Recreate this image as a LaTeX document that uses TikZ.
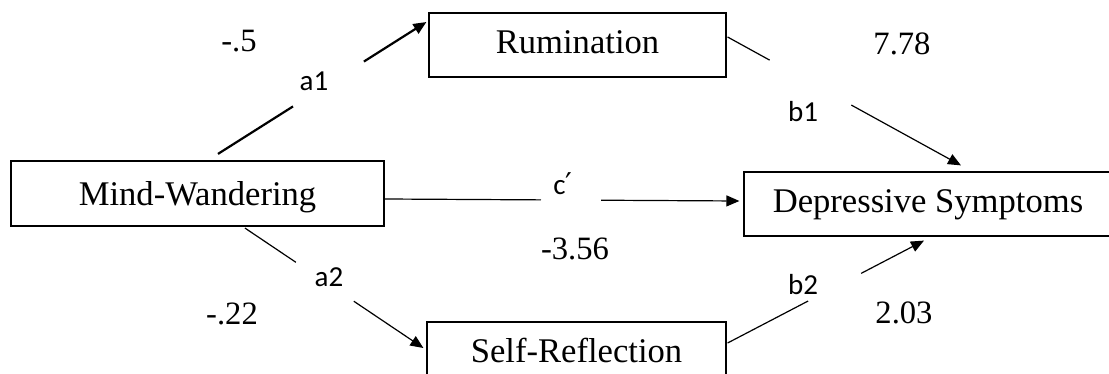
\documentclass[tikz,border=0pt]{standalone}
\usepackage{fontspec}
\setmainfont{Liberation Serif}
\newfontfamily\labelfont{Carlito}
\newfontfamily\primefont{DejaVu Sans}
\usetikzlibrary{arrows.meta,calc}

\begin{document}
\begin{tikzpicture}[x=0.5pt,y=-0.5pt,
  box/.style={draw,line width=0.6pt,inner sep=0pt,minimum height=32pt,font=\fontsize{17.3}{20}\selectfont,text height=12.1pt,text depth=3.8pt},
  coef/.style={font=\fontsize{16.3}{19}\selectfont},
  lab/.style={font=\labelfont\fontsize{14.5}{16}\selectfont},
  link/.style={line width=0.6pt},
  tip/.style={-{Triangle[length=6.5pt,width=5.5pt]}}]
  \useasboundingbox (0,0) rectangle (1109,374);
  \clip (0,0) rectangle (1109,374);
  \node[box,line width=1.1pt,minimum width=186.5pt,minimum height=32.5pt,text height=15.5pt] (mw) at (197.5,193.5) {Mind-Wandering};
  \node[box,minimum width=148.5pt] (rum) at (577.5,45) {Rumination};
  \node[box,minimum width=149.5pt] (sr) at (576.5,354) {Self-Reflection};
  \node[box,minimum width=184pt] (dep) at (928,204) {Depressive Symptoms};
  \coordinate (a1s) at ($(mw.north)+(20.5,-6)$);
  \coordinate (a1e) at ($(rum.west)+(-2,-23)$);
  \coordinate (b1s) at ($(rum.east)+(1,-8)$);
  \coordinate (b1e) at ($(dep.north)+(33,-6)$);
  \coordinate (cs) at ($(mw.east)+(0,5.5)$);
  \coordinate (ce) at ($(dep.west)+(-4,-3)$);
  \coordinate (a2s) at ($(mw.south)+(47.5,1)$);
  \coordinate (a2e) at ($(sr.west)+(-3,-6)$);
  \coordinate (b2s) at ($(sr.east)+(1,-11)$);
  \coordinate (b2e) at ($(dep.south)+(-4,4)$);
  \draw[link,line width=1.1pt] (a1s) -- ($(a1s)!0.36!(a1e)$);
  \draw[link,line width=1.1pt,tip] ($(a1s)!0.70!(a1e)$) -- (a1e);
  \draw[link] (b1s) -- ($(b1s)!0.18!(b1e)$);
  \draw[link,tip] ($(b1s)!0.53!(b1e)$) -- (b1e);
  \draw[link] (cs) -- ($(cs)!0.44!(ce)$);
  \draw[link,tip] ($(cs)!0.61!(ce)$) -- (ce);
  \draw[link] (a2s) -- ($(a2s)!0.285!(a2e)$);
  \draw[link,tip] ($(a2s)!0.61!(a2e)$) -- (a2e);
  \draw[link] (b2s) -- ($(b2s)!0.41!(b2e)$);
  \draw[link,tip] ($(b2s)!0.68!(b2e)$) -- (b2e);
  \node[lab] (la1) at (314,81) {a1};
  \node[lab] (lb1) at (803,112) {b1};
  \node[lab] (lc) at (563,184) {c{\primefont\fontsize{15}{17}\selectfont ′}};
  \node[lab] (la2) at (329,277) {a2};
  \node[lab] (lb2) at (803,285) {b2};
  \node[coef] (na1) at (239,41.5) {-.5};
  \node[coef] (nb1) at (902,44) {7.78};
  \node[coef] (nc) at (575,249) {-3.56};
  \node[coef] (na2) at (232,314) {-.22};
  \node[coef] (nb2) at (904,312.5) {2.03};
\end{tikzpicture}
\end{document}
